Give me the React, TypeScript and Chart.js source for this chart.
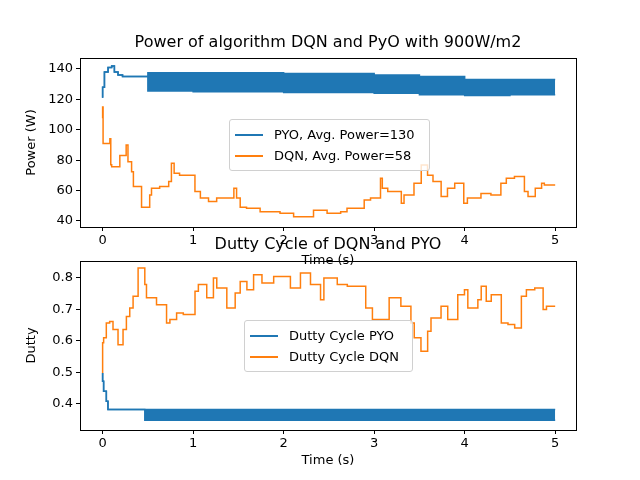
import { useEffect, useRef } from 'react'
import { Chart, registerables } from 'chart.js'

Chart.register(...registerables)

const BLUE = '#1f77b4'
const ORANGE = '#ff7f0e'
const FONT = '"DejaVu Sans", sans-serif'

// Power plot (t in s, value in W); band edges repeat the switch time so the fill stays stepped
const pyoPowerT = [0, 0.02, 0.06, 0.1, 0.13, 0.17, 0.22, 0.3, 0.4, 0.5, 0.5, 1, 2, 3, 3.5, 4, 4.5, 5]
const pyoPowerHigh = [121, 128, 138, 141, 142, 138, 136, 135, 135, 135, 137, 137.5, 137.5, 137, 136, 135, 133, 133]
const pyoPowerLow = [121, 128, 138, 141, 142, 138, 136, 135, 135, 135, 125, 125.5, 125, 124.5, 124, 123, 122.5, 123]

const dqnPowerT = [0, 0.005, 0.033, 0.08, 0.09, 0.1, 0.19, 0.21, 0.26, 0.28, 0.32, 0.34, 0.43, 0.47, 0.52, 0.54, 0.63, 0.73, 0.76, 0.79, 0.85, 1.02, 1.08, 1.17, 1.26, 1.45, 1.48, 1.52, 1.59, 1.74, 1.96, 2.11, 2.33, 2.48, 2.63, 2.7, 2.89, 2.96, 3.07, 3.09, 3.15, 3.3, 3.33, 3.44, 3.52, 3.59, 3.65, 3.74, 3.81, 3.89, 3.99, 4.03, 4.18, 4.29, 4.4, 4.46, 4.55, 4.66, 4.7, 4.78, 4.85, 4.88, 5.0]
const dqnPowerV = [107.5, 115, 91, 91, 94, 77, 75.7, 83, 83, 90, 79, 72.4, 62.6, 49, 49, 57, 61.5, 62.6, 66, 78, 71.4, 70, 59.3, 55, 52.7, 55, 61.5, 55, 49, 48.3, 46, 45, 42.8, 47, 45, 46, 48.3, 53.8, 55, 68, 61.5, 59.3, 51.6, 57, 64.8, 76.8, 70, 66, 56, 61.5, 64.8, 51.6, 55, 58, 57, 64.8, 68, 69.2, 59.3, 56, 61.5, 64.8, 63.7]

// Duty cycle plot
const pyoDutyT = [0, 0.011, 0.041, 0.059, 0.115, 0.466, 0.466, 5]
const pyoDutyHigh = [0.498, 0.472, 0.44, 0.408, 0.382, 0.382, 0.382, 0.382]
const pyoDutyLow = [0.498, 0.472, 0.44, 0.408, 0.382, 0.382, 0.348, 0.348]

const dqnDutyZx = [69, 72, 80, 90, 100, 115, 130, 140, 150, 160, 175, 185, 195, 200, 230, 260, 270, 290, 310, 345, 355, 380, 400, 410, 440, 465, 480, 500, 520, 545, 580, 630, 660, 690, 720, 730, 770, 800, 855, 875, 895, 925, 960, 990, 1000, 1020, 1040, 1050, 1080, 1100, 1130, 1150, 1160, 1190, 1200, 1215, 1230, 1260, 1280, 1300, 1320, 1335, 1360, 1385, 1395, 1421]
const dqnDutyT = dqnDutyZx.map(z => (z - 69) / 270.4) // picture column → seconds
const dqnDutyV = [0.498, 0.594, 0.61, 0.657, 0.662, 0.636, 0.588, 0.636, 0.678, 0.705, 0.742, 0.832, 0.832, 0.779, 0.737, 0.715, 0.657, 0.668, 0.689, 0.684, 0.758, 0.779, 0.737, 0.8, 0.768, 0.705, 0.752, 0.789, 0.763, 0.81, 0.784, 0.805, 0.768, 0.816, 0.779, 0.731, 0.8, 0.779, 0.774, 0.705, 0.668, 0.668, 0.737, 0.71, 0.657, 0.61, 0.567, 0.631, 0.673, 0.71, 0.668, 0.747, 0.763, 0.705, 0.731, 0.774, 0.726, 0.747, 0.657, 0.652, 0.641, 0.742, 0.763, 0.768, 0.7, 0.71]

const xTicks = [0, 1, 2, 3, 4, 5]
const powerTicks = [40, 60, 80, 100, 120, 140]
const dutyTicks = [0.4, 0.5, 0.6, 0.7, 0.8]

const pts = (t: number[], v: number[]) => t.map((x, i) => ({ x, y: v[i] }))

const framePlugin = {
  id: 'frame',
  afterDraw(chart: any) {
    const { ctx, chartArea: a } = chart
    ctx.save()
    ctx.strokeStyle = '#000'
    ctx.lineWidth = 1
    ctx.strokeRect(a.left + 0.5, a.top + 0.5, a.right - a.left, a.bottom - a.top)
    ctx.restore()
  },
}

function makeOptions(yMin: number, yMax: number, yTicks: number[], yTitle: string, padTop: number, xHeight: number, fmt: (v: number) => string): any {
  const tickFont = { family: FONT, size: 13 }
  return {
    responsive: false,
    animation: false,
    layout: { padding: { top: padTop, right: 64, left: 0, bottom: 0 } },
    plugins: { legend: { display: false }, tooltip: { enabled: false }, title: { display: false } },
    scales: {
      x: {
        type: 'linear',
        min: -0.25,
        max: 5.23,
        afterFit: (s: any) => { s.height = xHeight },
        afterBuildTicks: (s: any) => { s.ticks = xTicks.map(value => ({ value })) },
        grid: { drawOnChartArea: false, drawTicks: true, tickLength: 4, color: '#000' },
        border: { display: false },
        ticks: { color: '#000', font: tickFont, padding: 2, callback: (v: number) => String(v) },
        title: { display: true, text: 'Time (s)', color: '#000', font: tickFont, padding: { top: 2, bottom: 2 } },
      },
      y: {
        min: yMin,
        max: yMax,
        afterFit: (s: any) => { s.width = 56 },
        afterBuildTicks: (s: any) => { s.ticks = yTicks.map(value => ({ value })) },
        grid: { drawOnChartArea: false, drawTicks: true, tickLength: 4, color: '#000' },
        border: { display: false },
        ticks: { color: '#000', font: tickFont, padding: 3, callback: (v: number) => fmt(v) },
        title: { display: true, text: yTitle, color: '#000', font: tickFont, padding: { top: 0, bottom: 4 } },
      },
    },
  }
}

function lineSet(data: any[], color: string, fill: any = false) {
  return {
    data,
    borderColor: color,
    backgroundColor: color,
    borderWidth: 1.5,
    pointRadius: 0,
    stepped: 'after',
    fill,
  }
}

function Legend({ left, top, width, items }: { left: number; top: number; width: number; items: [string, string][] }) {
  return (
    <div style={{ position: 'absolute', left, top, width, padding: '4px 0', border: '1px solid #d0d0d0', borderRadius: 3, background: 'rgba(255,255,255,0.8)', fontFamily: FONT, fontSize: 13 }}>
      {items.map(([label, color]) => (
        <div key={label} style={{ display: 'flex', alignItems: 'center', height: 21, paddingLeft: 5 }}>
          <span style={{ display: 'inline-block', width: 28, height: 2, background: color, marginRight: 11 }} />
          {label}
        </div>
      ))}
    </div>
  )
}

export default function App() {
  const topRef = useRef<HTMLCanvasElement>(null)
  const bottomRef = useRef<HTMLCanvasElement>(null)

  useEffect(() => {
    document.body.style.margin = '0'
    const top = new Chart(topRef.current!, {
      type: 'line',
      data: {
        datasets: [
          lineSet(pts(pyoPowerT, pyoPowerHigh), BLUE, '+1'),
          lineSet(pts(pyoPowerT, pyoPowerLow), BLUE),
          lineSet(pts(dqnPowerT, dqnPowerV), ORANGE),
        ] as any,
      },
      options: makeOptions(36, 147.2, powerTicks, 'Power (W)', 58, 43, v => String(v)),
      plugins: [framePlugin],
    })
    const bottom = new Chart(bottomRef.current!, {
      type: 'line',
      data: {
        datasets: [
          lineSet(pts(pyoDutyT, pyoDutyHigh), BLUE, '+1'),
          lineSet(pts(pyoDutyT, pyoDutyLow), BLUE),
          lineSet(pts(dqnDutyT, dqnDutyV), ORANGE),
        ] as any,
      },
      options: makeOptions(0.317, 0.854, dutyTicks, 'Dutty', 21, 40, v => v.toFixed(1)),
      plugins: [framePlugin],
    })
    return () => {
      top.destroy()
      bottom.destroy()
    }
  }, [])

  const titleStyle: any = { position: 'absolute', left: 80, width: 496, textAlign: 'center', fontFamily: FONT, fontSize: 16, lineHeight: '20px' }

  return (
    <div style={{ position: 'fixed', left: 0, top: 0, width: 640, height: 480, background: '#fff' }}>
      <canvas ref={topRef} width={616} height={270} style={{ position: 'absolute', left: 24, top: 0 }} />
      <canvas ref={bottomRef} width={616} height={230} style={{ position: 'absolute', left: 24, top: 240 }} />
      <div style={{ ...titleStyle, top: 32 }}>Power of algorithm DQN and PyO with 900W/m2</div>
      <div style={{ ...titleStyle, top: 234 }}>Dutty Cycle of DQN and PYO</div>
      <Legend left={229} top={119} width={199} items={[['PYO, Avg. Power=130', BLUE], ['DQN, Avg. Power=58', ORANGE]]} />
      <Legend left={244} top={320} width={167} items={[['Dutty Cycle PYO', BLUE], ['Dutty Cycle DQN', ORANGE]]} />
    </div>
  )
}
